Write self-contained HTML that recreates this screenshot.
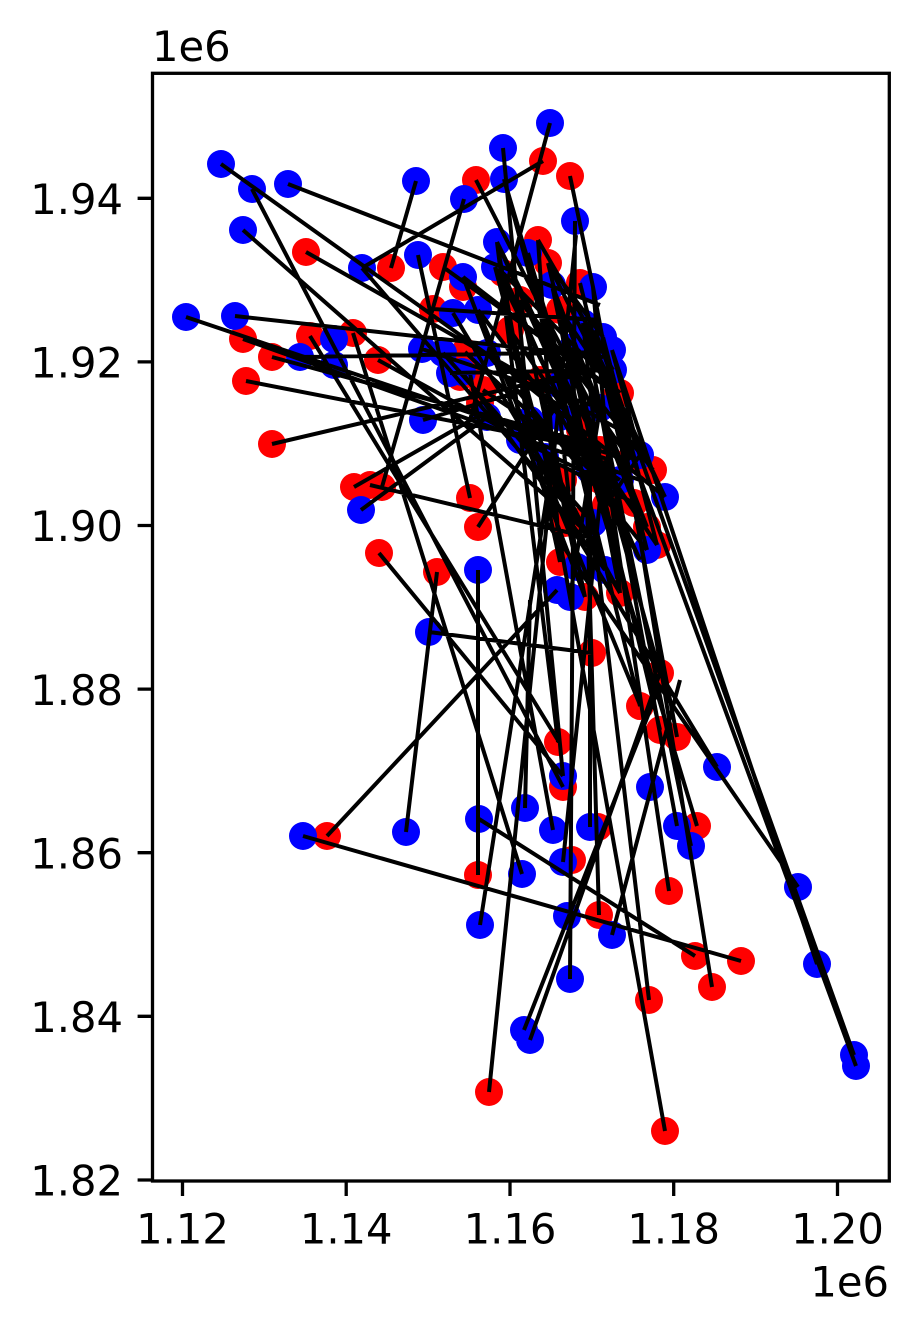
<!DOCTYPE html>
<html>
<head>
<meta charset="utf-8">
<style>
  html, body { margin: 0; padding: 0; background: #ffffff; }
  body { width: 919px; height: 1333px; overflow: hidden; }
  svg { display: block; }
  text { font-family: "DejaVu Sans", "Liberation Sans", sans-serif; font-size: 41.67px; fill: #000; }
</style>
</head>
<body>
<svg width="919" height="1333" viewBox="0 0 919 1333" xmlns="http://www.w3.org/2000/svg">
<rect x="0" y="0" width="919" height="1333" fill="#ffffff"/>
<path fill="none" stroke="#ff0000" stroke-width="28" stroke-linecap="round" d="M306 252h0M391 268h0M443 267h0M463 287h0M476 180h0M538 240h0M548 263h0M580 283h0M503 273h0M543 161h0M570 176h0M243 339h0M310 336h0M353 333h0M272 357h0M378 360h0M246 381h0M272 444h0M433 309h0M460 377h0M480 403h0M465 352h0M470 373h0M483 390h0M620 393h0M560 310h0M470 498h0M478 527h0M563 480h0M653 470h0M617 395h0M570 520h0M647 527h0M437 572h0M560 562h0M585 597h0M620 593h0M354 487h0M370 485h0M382 487h0M379 553h0M327 836h0M478 875h0M489 1092h0M563 787h0M598 827h0M572 860h0M599 915h0M669 891h0M695 956h0M741 961h0M712 987h0M649 1000h0M665 1131h0M697 826h0M660 673h0M640 706h0M677 737h0M660 730h0M558 742h0M592 653h0M565 523h0M606 505h0M634 503h0M600 450h0M630 460h0M580 430h0M520 300h0M510 330h0M540 380h0M600 480h0M657 545h0"/>
<path fill="none" stroke="#0000ff" stroke-width="28" stroke-linecap="round" d="M221 164h0M252 189h0M288 184h0M243 230h0M186 317h0M235 316h0M300 357h0M334 339h0M334 365h0M362 268h0M416 181h0M418 255h0M422 349h0M443 353h0M450 373h0M423 420h0M464 199h0M503 148h0M504 179h0M497 242h0M495 267h0M463 277h0M478 310h0M453 313h0M487 353h0M487 417h0M528 253h0M550 123h0M575 221h0M593 287h0M552 285h0M583 323h0M603 337h0M612 350h0M613 370h0M573 347h0M462 372h0M530 420h0M560 417h0M545 457h0M665 497h0M593 523h0M647 550h0M577 567h0M605 570h0M557 590h0M570 597h0M478 570h0M600 408h0M361 510h0M429 632h0M303 836h0M406 832h0M479 819h0M480 925h0M524 1030h0M530 1040h0M525 808h0M553 830h0M563 862h0M522 874h0M567 916h0M570 979h0M590 827h0M612 935h0M650 787h0M677 826h0M691 846h0M717 767h0M798 887h0M817 964h0M854 1055h0M856 1066h0M563 776h0M640 455h0M620 480h0M590 470h0M520 440h0M560 385h0"/>
<path fill="none" stroke="#000000" stroke-width="4" d="M221 164L565 410M252 189L563 787M288 184L600 305M243 230L590 535M306 252L620 430M416 181L391 268M362 268L543 161M362 268L566 505M464 199L382 487M476 180L590 403M418 255L470 498M186 317L610 460M235 316L603 357M243 339L640 480M272 357L596 445M300 357L600 352M272 444L600 367M310 336L559 742M353 333L522 874M303 836L741 961M327 836L557 590M406 832L437 572M478 570L478 875M479 819L695 956M489 1092L576 235M575 221L570 979M856 1066L583 323M854 1055L595 330M817 964L612 350M798 887L545 520M665 1131L545 457M649 1000L590 500M712 987L617 395M669 891L605 460M599 915L586 470M612 935L680 680M524 1030L658 690M530 1040L660 673M717 767L555 500M361 510L487 417M354 487L480 415M370 485L600 540M379 553L563 776M429 632L592 653M478 527L560 400M553 830L470 373M590 827L590 440M677 826L600 408M691 846L583 323M697 826L574 417M660 673L552 285M640 706L528 253M677 737L593 287M660 730L548 263M558 742L497 242M503 148L563 776M550 123L470 420M570 176L593 287M548 263L665 497M443 267L600 380M463 277L610 390M433 309L600 320M378 360L560 460M246 381L600 450M453 313L620 593M478 310L640 705M487 353L647 550M462 372L605 570M423 420L600 368M480 925L553 457M563 862L600 500M525 808L530 600M606 505L640 455M497 242L530 434M504 179L563 400M520 300L630 460M510 330L657 545M497 242L640 560M495 267L620 520M528 253L605 570M552 285L647 527M583 323L665 497M603 337L657 545M612 350L640 455M573 347L620 593M530 420L620 480M560 417L577 567M545 457L634 503M600 408L570 597M520 440L600 480M560 385L593 523M487 417L630 460M463 277L585 597M503 273L606 505M520 300L653 470M560 310L600 480M465 352L590 470M483 390L620 480M538 240L560 562M580 283L647 550M593 287L620 593M504 179L590 470M487 353L665 497M450 373L613 370M422 349L600 408M443 353L593 523M540 380L585 597M580 430L657 545M530 420L605 570M545 457L620 593M565 410L640 560M510 330L560 562M520 300L577 567M540 380L620 520M497 242L600 450M528 253L580 430M552 285L590 470M583 323L600 480M603 337L630 460M573 347L634 503M560 310L617 395M495 267L545 457M478 310L560 417M503 273L620 393M538 240L613 370M548 263L603 337"/>
<rect x="152.5" y="73.3" width="736.8" height="1107.7" fill="none" stroke="#000" stroke-width="3.3"/>
<path fill="none" stroke="#000" stroke-width="3.3" d="M137.6 198.3H152.5M137.6 361.9H152.5M137.6 525.5H152.5M137.6 689.1H152.5M137.6 852.7H152.5M137.6 1016.3H152.5M137.6 1180H152.5M182.5 1181V1196M346.2 1181V1196M510 1181V1196M673.7 1181V1196M837.5 1181V1196"/>
<g text-anchor="end">
<text x="123" y="214">1.94</text>
<text x="123" y="377.6">1.92</text>
<text x="123" y="541.2">1.90</text>
<text x="123" y="704.8">1.88</text>
<text x="123" y="868.4">1.86</text>
<text x="123" y="1032">1.84</text>
<text x="123" y="1195.7">1.82</text>
</g>
<g text-anchor="middle">
<text x="182.5" y="1243.5">1.12</text>
<text x="346.2" y="1243.5">1.14</text>
<text x="510" y="1243.5">1.16</text>
<text x="673.7" y="1243.5">1.18</text>
<text x="837.5" y="1243.5">1.20</text>
</g>
<text x="152" y="61">1e6</text>
<text x="889" y="1296.5" text-anchor="end">1e6</text>
</svg>
</body>
</html>
